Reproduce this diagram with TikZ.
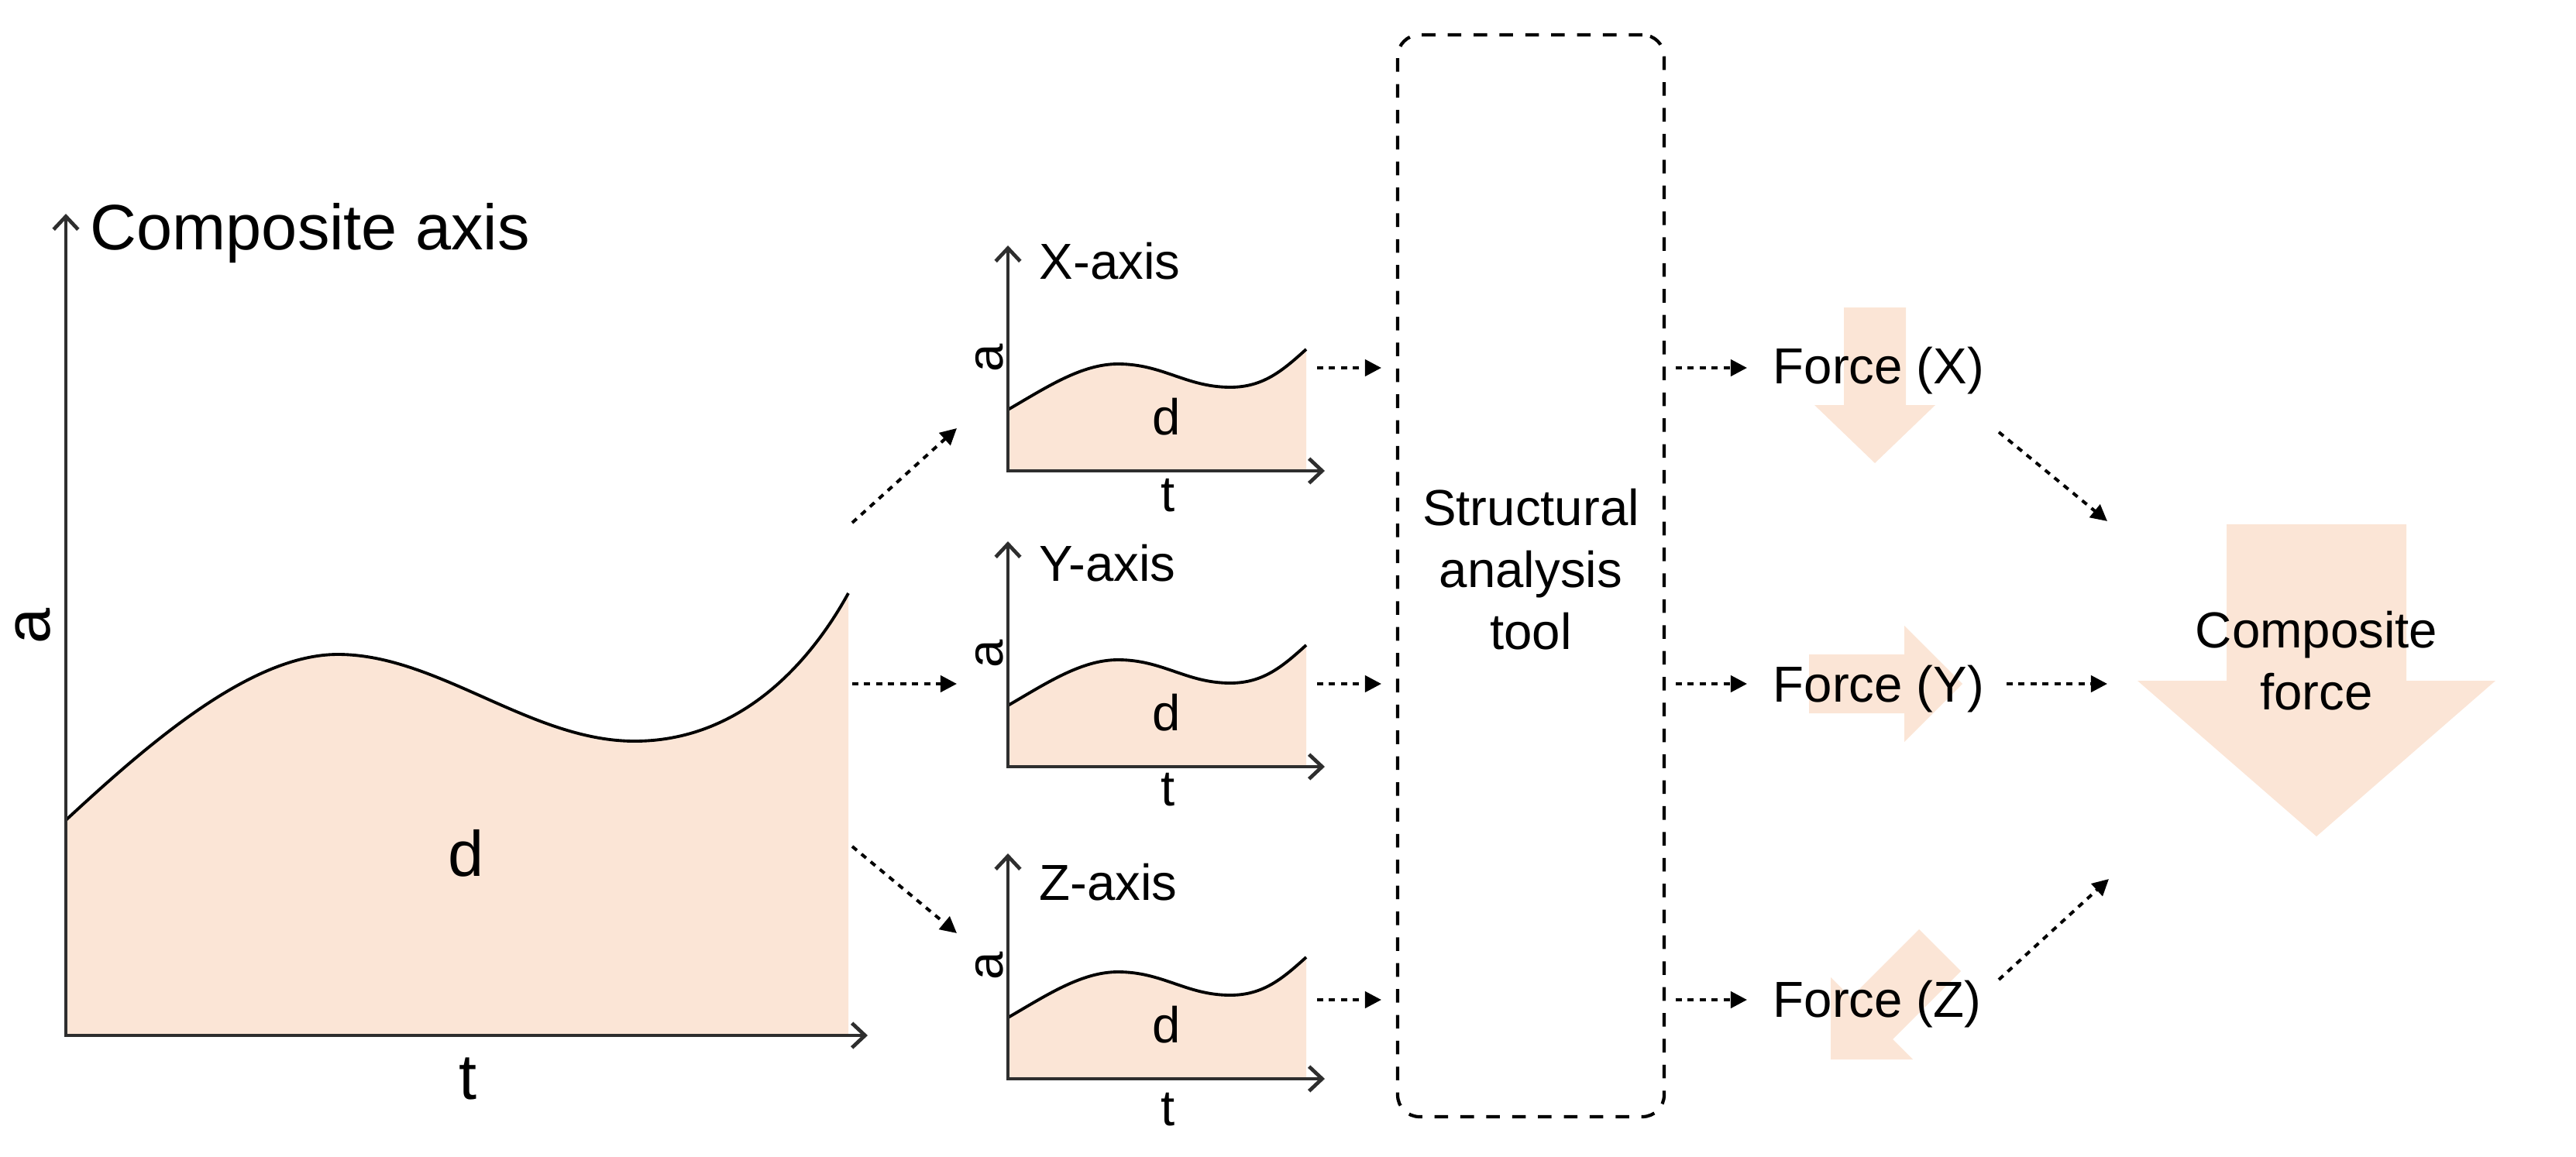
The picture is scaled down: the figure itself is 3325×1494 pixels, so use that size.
\documentclass[tikz,border=0pt]{standalone}
\usepackage{fontspec}
\setmainfont{Liberation Sans}
\usetikzlibrary{arrows.meta}
\definecolor{peach}{HTML}{FBE5D6}
\definecolor{axisgray}{HTML}{2E2E2E}
\newcommand\mysmallgraph[6]{% #1 x, #2 y of origin, #3 label, #4 label baseline offset, #5 name prefix, #6 t offset
  \begin{scope}[shift={(#1,#2)}]
    \fill[areafill] (0,0) -- (0,-79) .. controls (50,-108) and (95,-138) .. (142,-138)
      .. controls (200,-138) and (230,-108) .. (287,-108)
      .. controls (330,-108) and (355,-130) .. (385,-157) -- (385,0) -- cycle;
    \draw[curveln] (0,-79) .. controls (50,-108) and (95,-138) .. (142,-138)
      .. controls (200,-138) and (230,-108) .. (287,-108)
      .. controls (330,-108) and (355,-130) .. (385,-157);
    \draw[axisln] (0,-291) -- (0,0) -- (409,0);
    \node[smalltxt, anchor=base west] (#5-title) at (40,#4) {#3};
    \node[smalltxt, rotate=90] (#5-a) at (-24,-146) {a};
    \node[smalltxt] (#5-d) at (205,-70) {d};
    \node[smalltxt] (#5-t) at (207,#6) {t};
  \end{scope}}
\begin{document}
\begin{tikzpicture}[x=0.1mm,y=-0.1mm,
  axisln/.style={draw=axisgray, line width=1.35pt, line join=miter,
    {Straight Barb[length=4.8pt,width=9pt]}-{Straight Barb[length=4.8pt,width=9pt]}},
  curveln/.style={draw=black, line width=1.1pt},
  areafill/.style={fill=peach},
  dotconn/.style={draw=black, line width=1.15pt, dash pattern=on 2.2pt off 2.2pt,
    -{Triangle[length=6pt,width=6pt]}},
  bigtxt/.style={font=\fontsize{23.6}{28}\selectfont, inner sep=0},
  smalltxt/.style={font=\fontsize{18.6}{22.7}\selectfont, inner sep=0},
  forcearrow/.style={fill=peach, draw=none},
  toolbox/.style={draw=black, line width=1.2pt, dash pattern=on 5pt off 4.5pt,
    rounded corners=8pt, minimum width=3.44cm, minimum height=13.97cm, inner sep=0}
]
\useasboundingbox (0,0) rectangle (3325,1494);

% ---------- main composite graph ----------
\begin{scope}[shift={(85,1337)}]
  \fill[areafill] (0,0) -- (0,-278) .. controls (110,-380) and (240,-492) .. (351,-492)
    .. controls (480,-492) and (600,-380) .. (734,-380)
    .. controls (870,-380) and (960,-480) .. (1010,-571) -- (1010,0) -- cycle;
  \draw[curveln] (0,-278) .. controls (110,-380) and (240,-492) .. (351,-492)
    .. controls (480,-492) and (600,-380) .. (734,-380)
    .. controls (870,-380) and (960,-480) .. (1010,-571);
  \draw[axisln] (0,-1061) -- (0,0) -- (1035,0);
  \node[bigtxt, anchor=base west] (maintitle) at (31,-1014) {Composite axis};
  \node[bigtxt, rotate=90] (maina) at (-42,-529) {a};
  \node[bigtxt] (maind) at (517,-235) {d};
  \node[bigtxt] (maint) at (519,56) {t};
\end{scope}

% ---------- small graphs ----------
\mysmallgraph{1301}{608}{X-axis}{-248}{gx}{32}
\mysmallgraph{1301}{990}{Y-axis}{-240}{gy}{30}
\mysmallgraph{1301}{1393}{Z-axis}{-231}{gz}{40}

% ---------- structural analysis tool ----------
\node[toolbox] (tool) at (1976,743.5) {};
\node[smalltxt, align=center] (tooltxt) at (1976,735) {Structural\\analysis\\tool};

% ---------- force arrows ----------
\fill[forcearrow] (2380,397) -- (2460,397) -- (2460,523) -- (2498,523) -- (2420,598)
  -- (2342,523) -- (2380,523) -- cycle;
\fill[forcearrow] (2335,845) -- (2458,845) -- (2458,808) -- (2533,883) -- (2458,958)
  -- (2458,921) -- (2335,921) -- cycle;
\fill[forcearrow] (2363,1368) -- (2469,1368) -- (2443,1342) -- (2531,1254) -- (2477,1200)
  -- (2389,1288) -- (2363,1262) -- cycle;
\fill[forcearrow] (2874,677) -- (3106,677) -- (3106,879) -- (3221,879) -- (2990,1080)
  -- (2759,879) -- (2874,879) -- cycle;

\node[smalltxt, anchor=base west] (fx) at (2288,495) {Force (X)};
\node[smalltxt, anchor=base west] (fy) at (2288,906) {Force (Y)};
\node[smalltxt, anchor=base west] (fz) at (2288,1313) {Force (Z)};
\node[smalltxt, align=center] (comp) at (2990,853) {Composite\\force};

% ---------- connector end points ----------
\coordinate (m2x-s) at (1100,675);  \coordinate (m2x-e) at (1235,553);
\coordinate (m2y-s) at (1100,883);  \coordinate (m2y-e) at (1235,883);
\coordinate (m2z-s) at (1100,1093); \coordinate (m2z-e) at (1235,1205);
\coordinate (x2b-s) at (1700,475);  \coordinate (x2b-e) at (1783,475);
\coordinate (y2b-s) at (1700,883);  \coordinate (y2b-e) at (1783,883);
\coordinate (z2b-s) at (1700,1291); \coordinate (z2b-e) at (1783,1291);
\coordinate (b2x-s) at (2163,475);  \coordinate (b2x-e) at (2255,475);
\coordinate (b2y-s) at (2163,883);  \coordinate (b2y-e) at (2255,883);
\coordinate (b2z-s) at (2163,1291); \coordinate (b2z-e) at (2255,1291);
\coordinate (x2c-s) at (2580,558);  \coordinate (x2c-e) at (2720,673);
\coordinate (y2c-s) at (2590,883);  \coordinate (y2c-e) at (2720,883);
\coordinate (z2c-s) at (2580,1265); \coordinate (z2c-e) at (2722,1135);

\draw[dotconn] (m2x-s) -- (m2x-e);
\draw[dotconn] (m2y-s) -- (m2y-e);
\draw[dotconn] (m2z-s) -- (m2z-e);
\draw[dotconn] (x2b-s) -- (x2b-e);
\draw[dotconn] (y2b-s) -- (y2b-e);
\draw[dotconn] (z2b-s) -- (z2b-e);
\draw[dotconn] (b2x-s) -- (b2x-e);
\draw[dotconn] (b2y-s) -- (b2y-e);
\draw[dotconn] (b2z-s) -- (b2z-e);
\draw[dotconn] (x2c-s) -- (x2c-e);
\draw[dotconn] (y2c-s) -- (y2c-e);
\draw[dotconn] (z2c-s) -- (z2c-e);
\end{tikzpicture}
\end{document}
